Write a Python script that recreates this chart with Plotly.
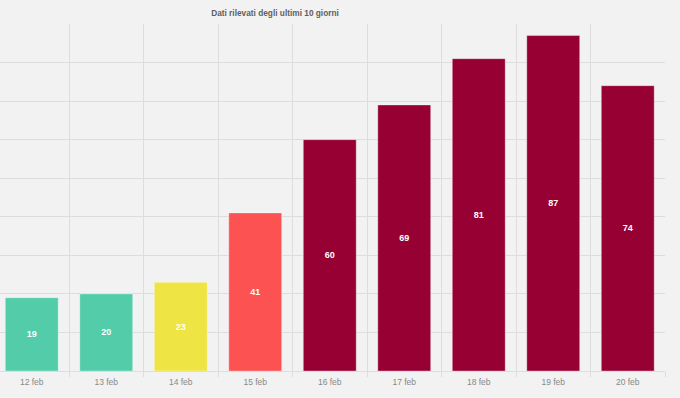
import plotly.graph_objects as go

days = ["12 feb", "13 feb", "14 feb", "15 feb", "16 feb", "17 feb", "18 feb", "19 feb", "20 feb"]
values = [19, 20, 23, 41, 60, 69, 81, 87, 74]
colors = ["#52cca9", "#52cca9", "#eee443", "#fc5251", "#960033", "#960033", "#960033", "#960033", "#960033"]
title_text = "Dati rilevati degli ultimi 10 giorni"

fig = go.Figure(go.Bar(
    x=days, y=values,
    marker=dict(color=colors, line=dict(color="rgba(255,255,255,0.35)", width=1)),
    text=[str(v) for v in values],
    textposition="inside",
    insidetextanchor="middle",
    textfont=dict(color="white", size=9, family="Liberation Sans", weight="bold"),
    textangle=0,
    width=0.71,
))

fig.update_layout(
    width=680, height=398,
    paper_bgcolor="#f2f2f2", plot_bgcolor="#f2f2f2",
    margin=dict(l=0, r=15, t=24, b=27),
    showlegend=False,
    title=dict(text=title_text, x=275/680, xanchor="center", y=1-13/398, yanchor="middle",
               font=dict(size=8.3, color="#5f5f5f", family="Liberation Sans", weight="bold")),
    xaxis=dict(range=[-0.5 + 5.5/74.5, 8.5], tickson="boundaries", ticks="outside", ticklen=5,
               tickcolor="#dddddd", showgrid=True, gridcolor="#dddddd", gridwidth=1,
               tickfont=dict(size=8.5, color="#888888", family="Liberation Sans"),
               ticklabelstandoff=4,
               showline=False, zeroline=False),
    yaxis=dict(range=[0, 90], dtick=10, showgrid=True, gridcolor="#dddddd", gridwidth=1,
               showticklabels=False, zeroline=True, zerolinecolor="#dddddd", zerolinewidth=1),
)

fig.write_html("out.html", config={"displayModeBar": False},
               post_script="document.body.style.margin='0';document.body.style.padding='0';")
